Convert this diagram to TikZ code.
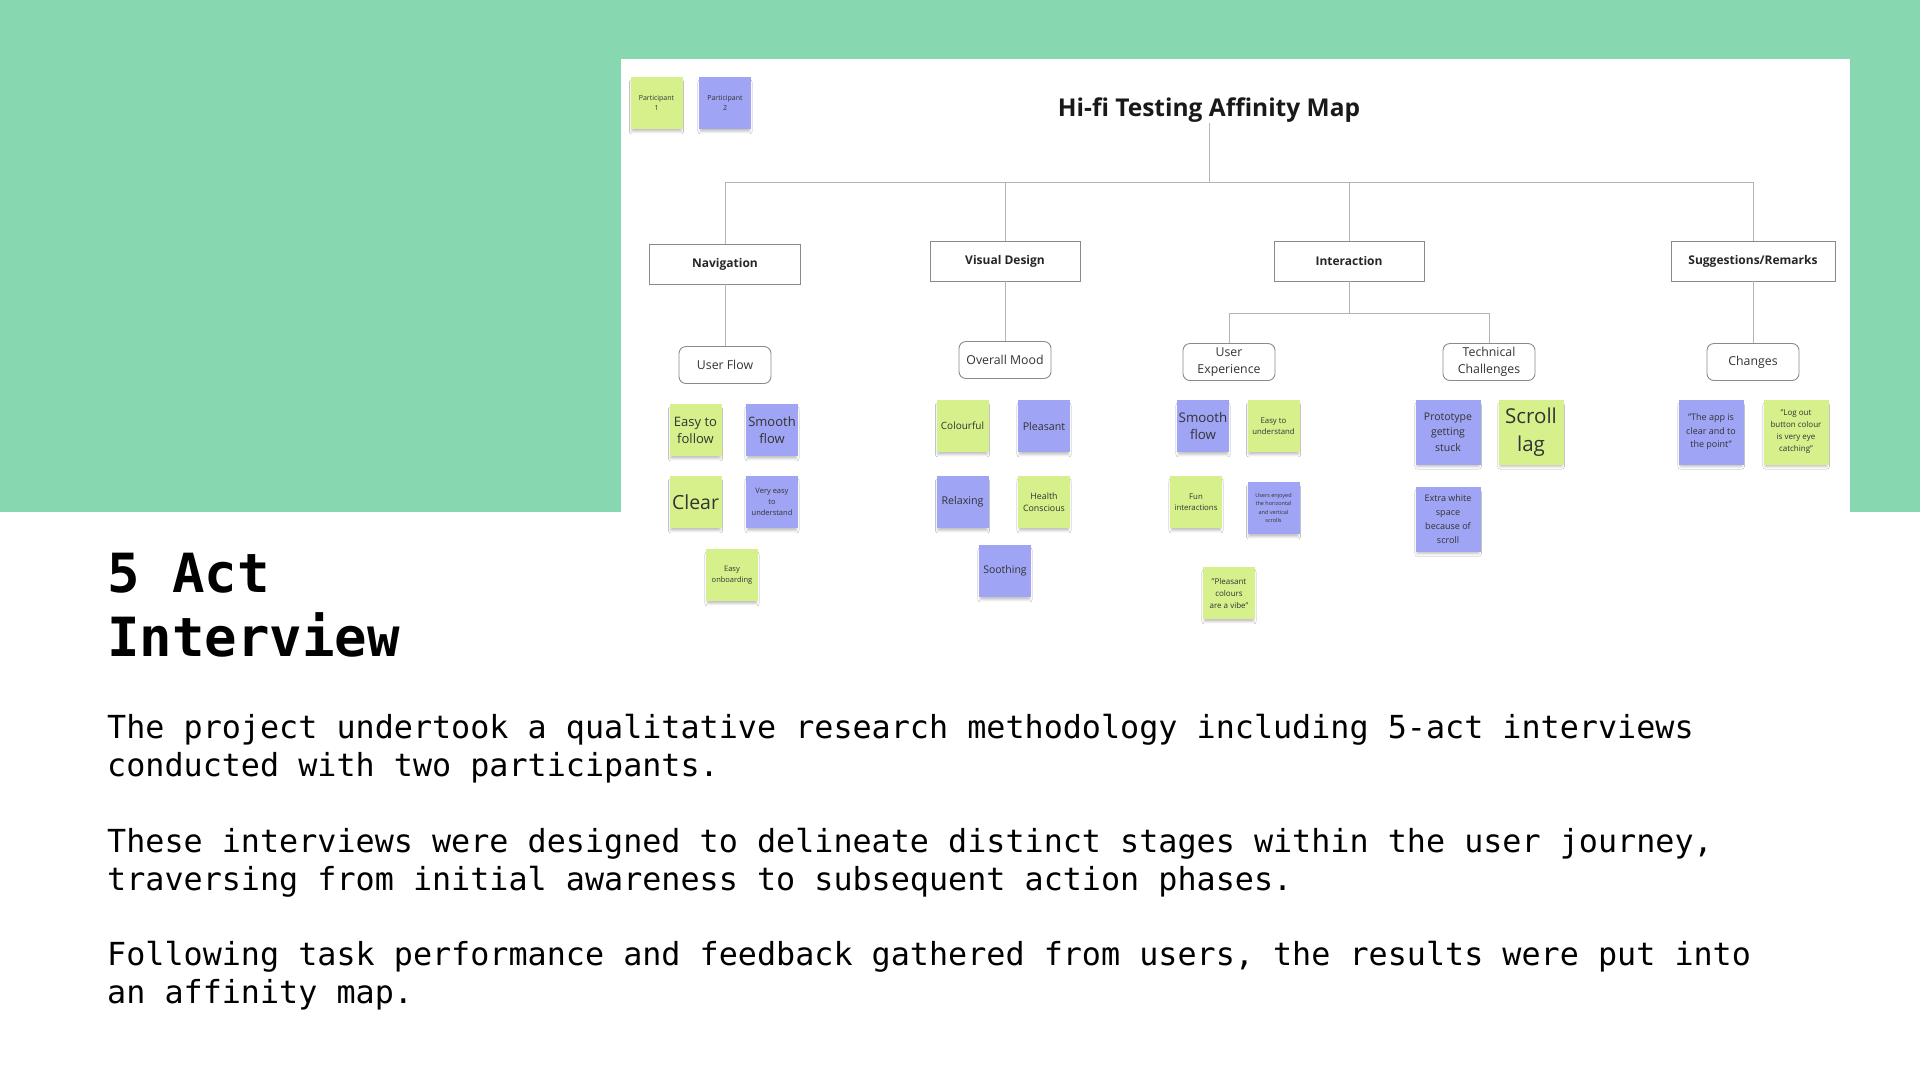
\documentclass[tikz,border=0pt]{standalone}
\usepackage{fontspec}
\setmainfont{Open Sans}
\newfontfamily\monofont{DejaVu Sans Mono}
\usetikzlibrary{shadows.blur}
\definecolor{mint}{HTML}{87D8B1}
\definecolor{sgreen}{HTML}{D6F08C}
\definecolor{spurple}{HTML}{9FA4F4}
\definecolor{linegray}{HTML}{B4B4B4}
\definecolor{boxgray}{HTML}{8A8A8A}
\newcommand{\fsz}[2]{\fontsize{#1}{#2}\selectfont}
\tikzset{
  conn/.style={draw=linegray, line width=1pt},
  catbox/.style={draw=boxgray, line width=0.9pt, fill=white, minimum height=40pt, font=\bfseries\fsz{12}{14}, text=black!85},
  subbox/.style={draw=boxgray, line width=0.9pt, fill=white, rounded corners=7pt, minimum width=92pt, minimum height=37pt, inner sep=1pt, align=center, font=\fsz{12.3}{17}, text=black!80},
  sticky/.style={minimum width=52pt, minimum height=52pt, inner sep=1pt, align=center, text=black!80,
    blur shadow={shadow xshift=0pt, shadow yshift=-4pt, shadow scale=0.95, shadow blur radius=2.5pt, shadow opacity=25}},
  bignote/.style={minimum width=65pt, minimum height=65pt},
  gnote/.style={sticky, fill=sgreen},
  pnote/.style={sticky, fill=spurple},
  bodyline/.style={anchor=base west, inner sep=0pt, font=\monofont\fsz{31.75}{38}, text=black},
  headline/.style={anchor=base west, inner sep=0pt, font=\monofont\bfseries\fsz{54}{61}, text=black}
}
\begin{document}
\begin{tikzpicture}[x=1pt, y=-1pt]
% background
\fill[white] (0,0) rectangle (1920,1080);
\useasboundingbox (0,0) rectangle (1920,1080);
\fill[mint] (0,0) rectangle (1920,512);
\fill[white] (621,59) rectangle (1850,512);

% title
\node[font=\bfseries\fsz{24.5}{28}, text=black!90, inner sep=0pt] (title) at (1209,110) {Hi-fi Testing Affinity Map};

% participants
\node[gnote, font=\fsz{7}{10}] (p1) at (656.5,103) {Participant\\1};
\node[pnote, font=\fsz{7}{10}] (p2) at (725,103) {Participant\\2};

% categories
\node[catbox, minimum width=151pt] (nav) at (725,264) {Navigation};
\node[catbox, minimum width=150pt] (vd) at (1005,261) {Visual Design};
\node[catbox, minimum width=150pt] (int) at (1349,261) {Interaction};
\node[catbox, minimum width=164pt] (sug) at (1753,261) {Suggestions/Remarks};

% subcategories
\node[subbox] (uf) at (725,365) {User Flow};
\node[subbox] (om) at (1005,360) {Overall Mood};
\node[subbox] (ue) at (1229,362) {User\\Experience};
\node[subbox] (tc) at (1489,362) {Technical\\Challenges};
\node[subbox] (ch) at (1753,362) {Changes};

% connectors
\coordinate (bar) at (1209,182);
\coordinate (ibar) at (1349,313);
\draw[conn] (title.south) -- (title.south |- bar);
\draw[conn] (nav.north) |- (bar -| sug.north) -- (sug.north);
\draw[conn] (vd.north) -- (vd.north |- bar);
\draw[conn] (int.north) -- (int.north |- bar);
\draw[conn] (nav.south) -- (uf.north);
\draw[conn] (vd.south) -- (om.north);
\draw[conn] (sug.south) -- (ch.north);
\draw[conn] (int.south) -- (int.south |- ibar);
\draw[conn] (ue.north) |- (ibar -| tc.north) -- (tc.north);

% navigation notes
\node[gnote, font=\fsz{13}{17}] (n1) at (695.5,430) {Easy to\\follow};
\node[pnote, font=\fsz{13}{17}] (n2) at (772,430) {Smooth\\flow};
\node[gnote, font=\fsz{19.5}{22}] (n3) at (695.5,502) {Clear};
\node[pnote, font=\fsz{7.5}{11}] (n4) at (772,502) {Very easy\\to\\understand};
\node[gnote, font=\fsz{7.5}{10.5}] (n5) at (732,575) {Easy\\onboarding};

% visual design notes
\node[gnote, font=\fsz{10}{12}] (v1) at (962.5,426) {Colourful};
\node[pnote, font=\fsz{10.7}{12}] (v2) at (1044,426) {Pleasant};
\node[pnote, font=\fsz{10.7}{12}] (v3) at (962.5,502) {Relaxing};
\node[gnote, font=\fsz{8.8}{12.5}] (v4) at (1044,502) {Health\\Conscious};
\node[pnote, font=\fsz{10.5}{12}] (v5) at (1005,571) {Soothing};

% interaction notes
\node[pnote, font=\fsz{13.3}{17.5}] (i1) at (1203,426) {Smooth\\flow};
\node[gnote, font=\fsz{7.8}{11}] (i2) at (1273.5,426) {Easy to\\understand};
\node[gnote, font=\fsz{7.8}{11}] (i3) at (1196,502) {Fun\\interactions};
\node[pnote, font=\fsz{5.5}{8.2}] (i4) at (1273.5,508) {Users enjoyed\\the horizontal\\and vertical\\scrolls};
\node[gnote, font=\fsz{8}{12}] (i5) at (1229,593) {"Pleasant\\colours\\are a vibe"};

\node[pnote, bignote, font=\fsz{10.5}{15.5}] (t1) at (1448,432) {Prototype\\getting\\stuck};
\node[gnote, bignote, font=\fsz{20.5}{28}] (t2) at (1531,432) {Scroll\\lag};
\node[pnote, bignote, font=\fsz{9}{13.8}] (t3) at (1448,519) {Extra white\\space\\because of\\scroll};

% suggestions notes
\node[pnote, bignote, font=\fsz{9}{13.5}] (c1) at (1711,432) {"The app is\\clear and to\\the point"};
\node[gnote, bignote, font=\fsz{8}{12}] (c2) at (1796,432) {"Log out\\button colour\\is very eye\\catching"};

% heading
\node[headline] (h1) at (107,592) {5 Act};
\node[headline] (h2) at (107,656) {Interview};

% body text
\node[bodyline] (b1) at (107,738) {The project undertook a qualitative research methodology including 5-act interviews};
\node[bodyline] (b2) at (107,776) {conducted with two participants.};
\node[bodyline] (b3) at (107,852) {These interviews were designed to delineate distinct stages within the user journey,};
\node[bodyline] (b4) at (107,890) {traversing from initial awareness to subsequent action phases.};
\node[bodyline] (b5) at (107,965) {Following task performance and feedback gathered from users, the results were put into};
\node[bodyline] (b6) at (107,1003) {an affinity map.};
\end{tikzpicture}
\end{document}
